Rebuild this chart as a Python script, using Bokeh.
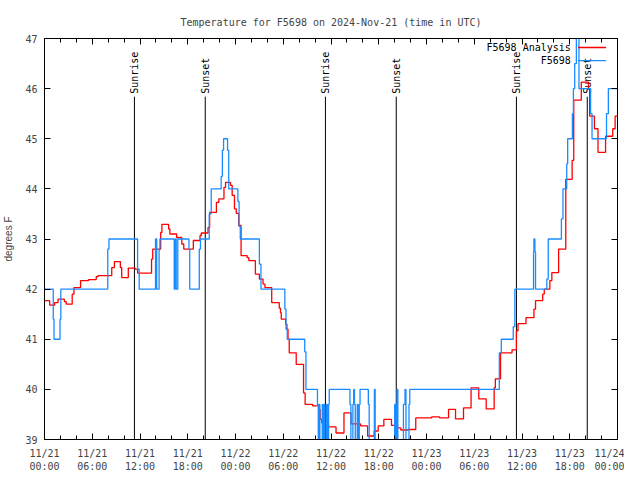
import math
from bokeh.plotting import figure
from bokeh.models import FixedTicker, LinearAxis, CustomJSTickFormatter
from bokeh.embed import file_html
from bokeh.resources import INLINE
from bokeh.core.properties import value

# ---------------- data (hours since 2024-11-21 00:00 UTC, degrees F) ----------------
ANALYSIS_T = [0, 0.65, 1.27, 1.7, 2.5, 2.73, 3.48, 3.7, 4.53, 5.53, 6.5, 6.73, 8.45, 8.78,
              9.53, 9.7, 10.53, 11.4, 11.7, 13.45, 13.6, 14.6, 14.75, 15.6, 15.75, 16.6,
              17.25, 17.5, 18.7, 19.54, 19.7, 20.55, 20.75, 21.6, 21.9, 22.55, 22.75, 23.37,
              23.58, 23.87, 24.1, 24.4, 24.7, 25.46, 25.67, 26.5, 27.0, 27.46, 27.7, 28.55,
              29.5, 29.65, 29.75, 30.3, 30.46, 30.6, 30.75, 31.63, 32.55, 32.75, 33.7, 34.5,
              34.63, 34.84, 35.68, 36.63, 37.63, 38.51, 39.72, 40.6, 41.43, 41.93, 42.64,
              43.6, 44.35, 44.77, 45.69, 46.65, 48.64, 49.64, 50.77, 51.65, 52.65, 53.6,
              54.57, 55.5, 56.5, 56.65, 57.3, 58.75, 59.3, 59.5, 60.5, 61.5, 61.7, 62.6, 62.8,
              63.5, 63.75, 64.6, 65.5, 66.3, 66.5, 67.45, 68.35, 68.5, 69.1, 69.55, 70.5,
              71.4, 71.7, 72.0]
ANALYSIS_V = [41.77, 41.68, 41.73, 41.8, 41.75, 41.7, 41.9, 42.03, 42.17, 42.19, 42.25, 42.27,
              42.43, 42.55, 42.43, 42.23, 42.42, 42.4, 42.32, 42.6, 42.8, 43.13, 43.29, 43.2,
              43.1, 43.03, 42.9, 42.8, 42.97, 43.07, 43.12, 43.23, 43.53, 43.73, 43.8, 44.03,
              44.13, 44.07, 43.87, 43.6, 43.51, 43.27, 42.67, 42.63, 42.57, 42.3, 42.2, 42.1,
              42.03, 41.73, 41.62, 41.53, 41.4, 41.3, 41.2, 41.0, 40.73, 40.5, 39.93, 39.7,
              39.67, 39.6, 39.4, 39.33, 39.25, 39.13, 39.53, 39.31, 39.27, 39.07, 39.17, 39.27,
              39.4, 39.28, 39.23, 39.19, 39.2, 39.43, 39.45, 39.43, 39.6, 39.41, 39.63, 40.03,
              39.81, 39.61, 40.03, 40.21, 40.73, 40.79, 41.17, 41.31, 41.43, 41.6, 41.77, 41.9,
              42.0, 42.17, 42.33, 42.8, 44.19, 44.57, 45.77, 46.13, 46.0, 45.45, 45.2, 44.73,
              45.05, 45.2, 45.45, 45.45]

OBS_T = [0, 1.1, 1.2, 1.95, 2.05, 7.95, 8.1, 11.7, 11.9, 13.95, 14.1, 14.4, 14.5, 16.3, 16.45,
         16.55, 16.75, 18.15, 18.25, 19.45, 19.6, 20.7, 20.95, 22.2, 22.35, 22.5, 23.0, 23.15,
         24.3, 24.45, 24.6, 27.0, 27.2, 30.2, 30.35, 30.5, 32.7, 32.85,
         34.3, 34.4, 34.5, 34.6, 34.9, 35.0, 35.15, 35.25, 35.45, 35.55, 35.7, 35.78,
         38.38, 38.5, 38.75, 38.85, 38.95, 39.05, 39.3, 39.4, 39.55, 39.65,
         40.69, 40.8, 41.45, 41.55, 44.0, 44.15, 44.3, 44.4, 45.1, 45.3, 45.42, 45.8, 45.9,
         57.15, 57.4, 58.9, 59.1, 61.45, 61.5, 61.62, 61.7, 63.12, 63.3, 64.95, 65.15, 65.62,
         65.74, 66.33, 66.46, 66.62, 66.83, 67.16, 68.62, 68.8, 70.62, 70.85, 72.0]
OBS_V = [42.0, 41.4, 41.0, 41.4, 42.0, 42.8, 43.0, 42.4, 42.0, 43.0, 42.0, 42.8, 43.0, 42.0, 43.0,
         42.0, 43.0, 42.8, 42.0, 42.8, 43.0, 43.5, 44.0, 44.25, 44.77, 45.0, 44.77, 44.0,
         43.75, 43.25, 43.0, 42.5, 42.0, 41.6, 41.2, 41.0, 40.75, 40.0,
         39.7, 38.5, 39.7, 38.5, 39.7, 38.5, 39.7, 38.5, 39.7, 38.5, 39.7, 40.0,
         39.7, 38.5, 39.7, 40.0, 39.7, 38.5, 39.7, 38.5, 39.7, 40.0,
         39.7, 38.5, 40.0, 38.5, 39.7, 38.5, 40.0, 38.5, 39.7, 40.0, 38.5, 39.7, 40.0,
         40.73, 41.0, 41.25, 42.0, 42.75, 43.0, 42.75, 42.0, 42.2, 43.0, 43.4, 44.0, 44.5,
         45.0, 45.5, 46.0, 46.5, 47.5, 46.0, 45.5, 45.0, 45.5, 46.0, 46.0]

EVENT_HOURS = [11.3, 20.2, 35.3, 44.2, 59.3, 68.2]
EVENT_NAMES = ["Sunrise", "Sunset", "Sunrise", "Sunset", "Sunrise", "Sunset"]

SERIES_NAMES = ["F5698 Analysis", "F5698"]
SERIES_COLORS = ["#ff0000", "#1a8cff"]

X_TICKS = list(range(0, 73, 6))
X_MINOR_TICKS = list(range(0, 73, 2))
X_TICK_LABELS = ["11/21\n00:00", "11/21\n06:00", "11/21\n12:00", "11/21\n18:00",
                 "11/22\n00:00", "11/22\n06:00", "11/22\n12:00", "11/22\n18:00",
                 "11/23\n00:00", "11/23\n06:00", "11/23\n12:00", "11/23\n18:00",
                 "11/24\n00:00"]
Y_TICKS = list(range(39, 48))

X_MIN, X_MAX = 0, 72
Y_MIN, Y_MAX = 39, 47

MONO = "DejaVu Sans Mono"

p = figure(width=624, height=474, x_range=(X_MIN, X_MAX), y_range=(Y_MIN, Y_MAX),
           output_backend="svg", toolbar_location=None,
           title="Temperature for F5698 on 2024-Nov-21 (time in UTC)",
           min_border_left=38, min_border_right=7, min_border_top=38, min_border_bottom=35)

p.title.align = "center"
p.title.text_font = MONO
p.title.text_font_size = "10px"
p.title.text_font_style = "normal"
p.title.standoff = 21

p.grid.visible = False
p.outline_line_color = "black"
p.outline_line_width = 1
p.background_fill_color = "white"
p.border_fill_color = "white"

# bottom axis
xa = p.xaxis[0]
xa.ticker = FixedTicker(ticks=X_TICKS, minor_ticks=X_MINOR_TICKS)
xa.major_label_overrides = {t: lab for t, lab in zip(X_TICKS, X_TICK_LABELS)}
xa.major_label_text_font = MONO
xa.major_label_text_font_size = "10px"
xa.major_label_standoff = 8
xa.major_tick_in = 6
xa.major_tick_out = 0
xa.minor_tick_in = 4
xa.minor_tick_out = 0
xa.axis_line_color = "black"

# left axis
ya = p.yaxis[0]
ya.ticker = FixedTicker(ticks=Y_TICKS, minor_ticks=[])
ya.major_label_text_font = MONO
ya.major_label_text_font_size = "10px"
ya.major_label_standoff = 7
ya.major_tick_in = 6
ya.major_tick_out = 0
ya.minor_tick_in = 0
ya.minor_tick_out = 0
ya.axis_label = "degrees F"
ya.axis_label_text_font = "Liberation Sans"
ya.axis_label_text_font_size = "10px"
ya.axis_label_text_font_style = "normal"
ya.axis_label_standoff = 8

# mirrored axes (ticks only, no labels)
blank = CustomJSTickFormatter(code="return '';")
top = LinearAxis(ticker=FixedTicker(ticks=X_TICKS, minor_ticks=X_MINOR_TICKS),
                 formatter=blank, major_tick_in=6, major_tick_out=0,
                 minor_tick_in=4, minor_tick_out=0, major_label_standoff=0)
right = LinearAxis(ticker=FixedTicker(ticks=Y_TICKS, minor_ticks=[]),
                   formatter=blank, major_tick_in=6, major_tick_out=0,
                   minor_tick_in=0, minor_tick_out=0, major_label_standoff=0)
p.add_layout(top, "above")
p.add_layout(right, "right")

# sunrise / sunset markers
mark_top = Y_MIN + 0.855 * (Y_MAX - Y_MIN)
label_y = Y_MIN + 0.862 * (Y_MAX - Y_MIN)
p.segment(x0=EVENT_HOURS, y0=[Y_MIN] * len(EVENT_HOURS), x1=EVENT_HOURS,
          y1=[mark_top] * len(EVENT_HOURS), line_color="black", line_width=1)
p.text(x=EVENT_HOURS, y=[label_y] * len(EVENT_HOURS), text=EVENT_NAMES, angle=math.pi / 2,
       text_align="left", text_baseline="middle", text_font=value(MONO),
       text_font_size="10px", text_color="black")

# data series
p.step(ANALYSIS_T, ANALYSIS_V, mode="after", line_color=SERIES_COLORS[0], line_width=1.3)
p.step(OBS_T, OBS_V, mode="after", line_color=SERIES_COLORS[1], line_width=1.3)

# gnuplot-style key (text then sample line), placed relative to the ranges
span_x = X_MAX - X_MIN
span_y = Y_MAX - Y_MIN
key_text_x = X_MAX - 0.0815 * span_x
key_line_x0 = X_MAX - 0.069 * span_x
key_line_x1 = X_MAX - 0.020 * span_x
key_y = [Y_MAX - 0.0225 * span_y, Y_MAX - 0.055 * span_y]
p.text(x=[key_text_x] * 2, y=key_y, text=SERIES_NAMES, text_align="right",
       text_baseline="middle", text_font=value(MONO), text_font_size="10px",
       text_color="black")
p.segment(x0=[key_line_x0] * 2, y0=key_y, x1=[key_line_x1] * 2, y1=key_y,
          line_color=SERIES_COLORS, line_width=1.3)

open("out.html", "w").write(file_html(p, INLINE))
